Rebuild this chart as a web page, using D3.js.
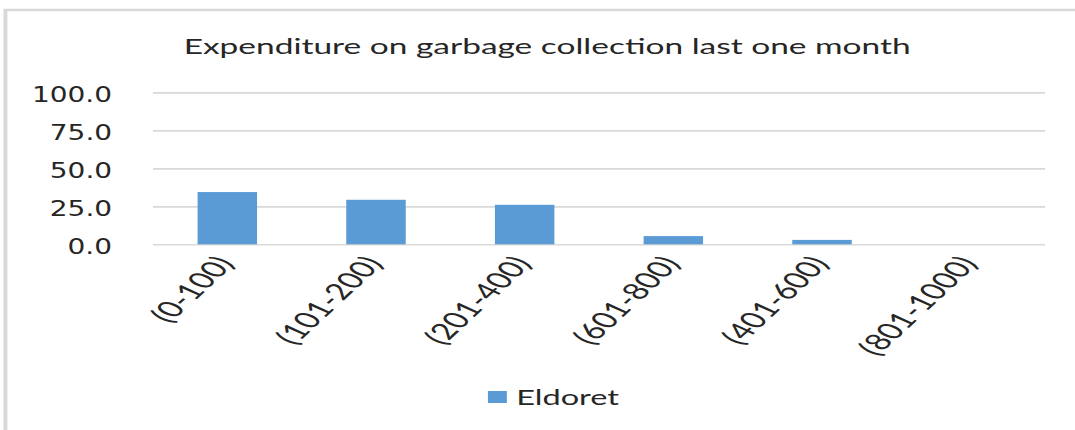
<!DOCTYPE html>
<html>
<head>
<meta charset="utf-8">
<script src="https://cdn.jsdelivr.net/npm/d3@7"></script>
<style>
  html, body { margin: 0; padding: 0; background: #fff; }
  svg { display: block; }
  text { font-family: Lato, "Liberation Sans", sans-serif; fill: #333; }
</style>
</head>
<body>
<svg id="chart" width="1075" height="430"></svg>
<script>
// Chart data
const categories = ["(0-100)", "(101-200)", "(201-400)", "(601-800)", "(401-600)", "(801-1000)"];
const eldoret = [34.4, 29.3, 26.0, 5.4, 2.9, 0.0];
const yTicks = [0, 25, 50, 75, 100];
const seriesName = "Eldoret";
const titleText = "Expenditure on garbage collection last one month";

// The chart is laid out in a narrower frame and stretched horizontally.
const sx = 1.55;
const W = 1075 / sx, H = 430;

const svg = d3.select("#chart");
const root = svg.append("g").attr("transform", `scale(${sx},1)`);

// Chart area border
root.append("rect")
  .attr("x", 3.5).attr("y", 10)
  .attr("width", W + 20).attr("height", H + 20)
  .attr("fill", "#fff")
  .attr("stroke", "#d9d9d9")
  .attr("stroke-width", 2.5);

const plot = { left: 98.7, right: 674.2, top: 92.4, bottom: 244.3 };

const x = d3.scaleBand()
  .domain(categories)
  .range([plot.left, plot.right])
  .paddingInner(0.6)
  .paddingOuter(0.3);

const y = d3.scaleLinear()
  .domain([0, 100])
  .range([plot.bottom, plot.top]);

// Gridlines and value labels
const yAxis = root.append("g")
  .attr("transform", `translate(${plot.left},0)`)
  .call(d3.axisLeft(y)
    .tickValues(yTicks)
    .tickSize(-(plot.right - plot.left))
    .tickPadding(0)
    .tickFormat(d3.format(".1f")));
yAxis.select(".domain").remove();
yAxis.selectAll(".tick line")
  .attr("stroke", "#d9d9d9")
  .attr("stroke-width", 1.6);
yAxis.selectAll(".tick text")
  .attr("x", 72.3 - plot.left)
  .attr("dy", "0.42em")
  .attr("text-anchor", "end")
  .style("font-family", "'DejaVu Sans', sans-serif")
  .style("font-size", "21px")
  .style("fill", "#262626")
  .each(function () {
    const w = this.getComputedTextLength();
    d3.select(this)
      .attr("textLength", w * 0.86)
      .attr("lengthAdjust", "spacingAndGlyphs");
  });

// Bars
root.append("g")
  .selectAll("rect")
  .data(categories.map((c, i) => ({ c, v: eldoret[i] })))
  .join("rect")
  .attr("x", d => x(d.c))
  .attr("y", d => y(d.v))
  .attr("width", x.bandwidth())
  .attr("height", d => y(0) - y(d.v))
  .attr("fill", "#5b9bd5");

// Category labels
root.append("g")
  .selectAll("text")
  .data(categories)
  .join("text")
  .attr("transform", d => `translate(${x(d) + x.bandwidth() / 2 - 1.5},${259}) rotate(-55)`)
  .attr("text-anchor", "end")
  .attr("dy", "0.35em")
  .style("font-size", "23px")
  .style("fill", "#262626")
  .text(d => d);

// Title
root.append("text")
  .attr("x", 353)
  .attr("y", 54)
  .attr("text-anchor", "middle")
  .attr("textLength", 469)
  .attr("lengthAdjust", "spacingAndGlyphs")
  .style("font-size", "22px")
  .style("fill", "#262626")
  .text(titleText);

// Legend
const legend = root.append("g");
legend.append("rect")
  .attr("x", 314.8).attr("y", 391)
  .attr("width", 12.2).attr("height", 12)
  .attr("fill", "#5b9bd5");
legend.append("text")
  .attr("x", 333)
  .attr("y", 405)
  .style("font-size", "21px")
  .style("fill", "#262626")
  .text(seriesName);
</script>
</body>
</html>
